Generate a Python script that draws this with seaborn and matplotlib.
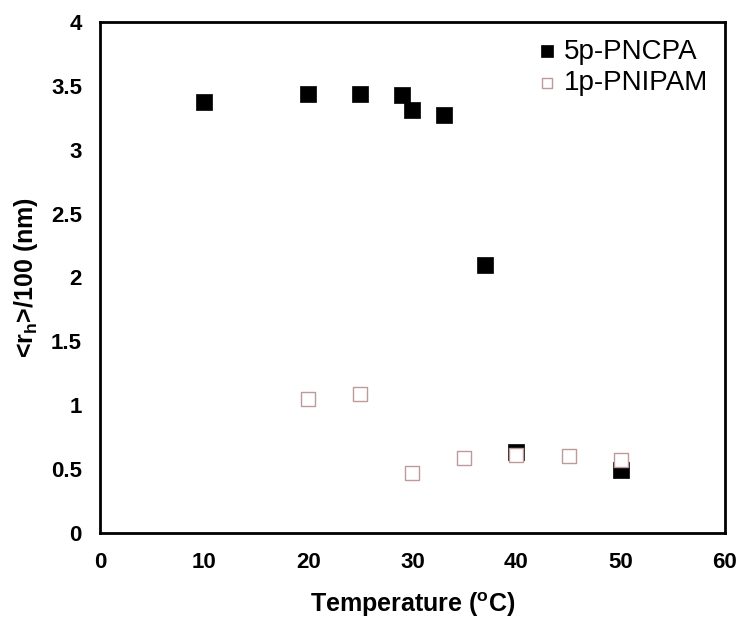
import pandas as pd
import matplotlib
matplotlib.use('Agg')
import matplotlib.pyplot as plt
import seaborn as sns

sns.set_style('white')
plt.rcParams['font.family'] = ['Liberation Sans', 'DejaVu Sans']
plt.rcParams['mathtext.fontset'] = 'custom'
plt.rcParams['mathtext.rm'] = 'Liberation Sans:bold'
plt.rcParams['mathtext.bf'] = 'Liberation Sans:bold'
plt.rcParams['text.color'] = 'black'
plt.rcParams['axes.labelcolor'] = 'black'
plt.rcParams['xtick.color'] = 'black'
plt.rcParams['ytick.color'] = 'black'

# 数据
temp_pncpa = [10, 20, 25, 29, 30, 33, 37, 40, 50]
rh_pncpa = [3.37, 3.44, 3.44, 3.43, 3.31, 3.27, 2.10, 0.63, 0.49]
temp_pnipam = [20, 25, 30, 35, 40, 45, 50]
rh_pnipam = [1.05, 1.09, 0.47, 0.59, 0.61, 0.60, 0.57]

df1 = pd.DataFrame({'T': temp_pncpa, 'rh': rh_pncpa})
df2 = pd.DataFrame({'T': temp_pnipam, 'rh': rh_pnipam})

fig = plt.figure(figsize=(7.38, 6.19), dpi=100)
ax = fig.add_axes([0.1355, 0.139, 0.8465, 0.8255])

sns.scatterplot(data=df1, x='T', y='rh', marker='s', s=130, color='black',
                edgecolor='black', linewidth=0.5, label='5p-PNCPA', ax=ax, zorder=2)
sns.scatterplot(data=df2, x='T', y='rh', marker='s', s=95, facecolor='white',
                edgecolor='#c09a9a', linewidth=1.0, label='1p-PNIPAM', ax=ax, zorder=3)

ax.set_xlim(0, 60)
ax.set_ylim(0, 4)
ax.set_xticks(range(0, 61, 10))
ax.set_yticks([0, 0.5, 1, 1.5, 2, 2.5, 3, 3.5, 4])
ax.set_yticklabels(['0', '0.5', '1', '1.5', '2', '2.5', '3', '3.5', '4'])
ax.tick_params(direction='in', length=5, width=1.5, labelsize=16)
ax.tick_params(axis='x', pad=14)
ax.tick_params(axis='y', pad=13)
for lab in ax.get_xticklabels() + ax.get_yticklabels():
    lab.set_fontweight('bold')
for sp in ax.spines.values():
    sp.set_linewidth(2)
    sp.set_color('black')

ax.set_xlabel(r'Temperature ($^\mathrm{o}$C)', fontsize=18, fontweight='bold', labelpad=12)
ax.set_ylabel(r'<r$_\mathrm{h}$>/100 (nm)', fontsize=18, fontweight='bold', labelpad=8)

leg = ax.legend(loc='upper right', frameon=False, fontsize=20, handletextpad=0.1,
                handlelength=1.0, markerscale=0.8, borderaxespad=0.2, labelspacing=0.2)

fig.savefig('out.png', dpi=100)
